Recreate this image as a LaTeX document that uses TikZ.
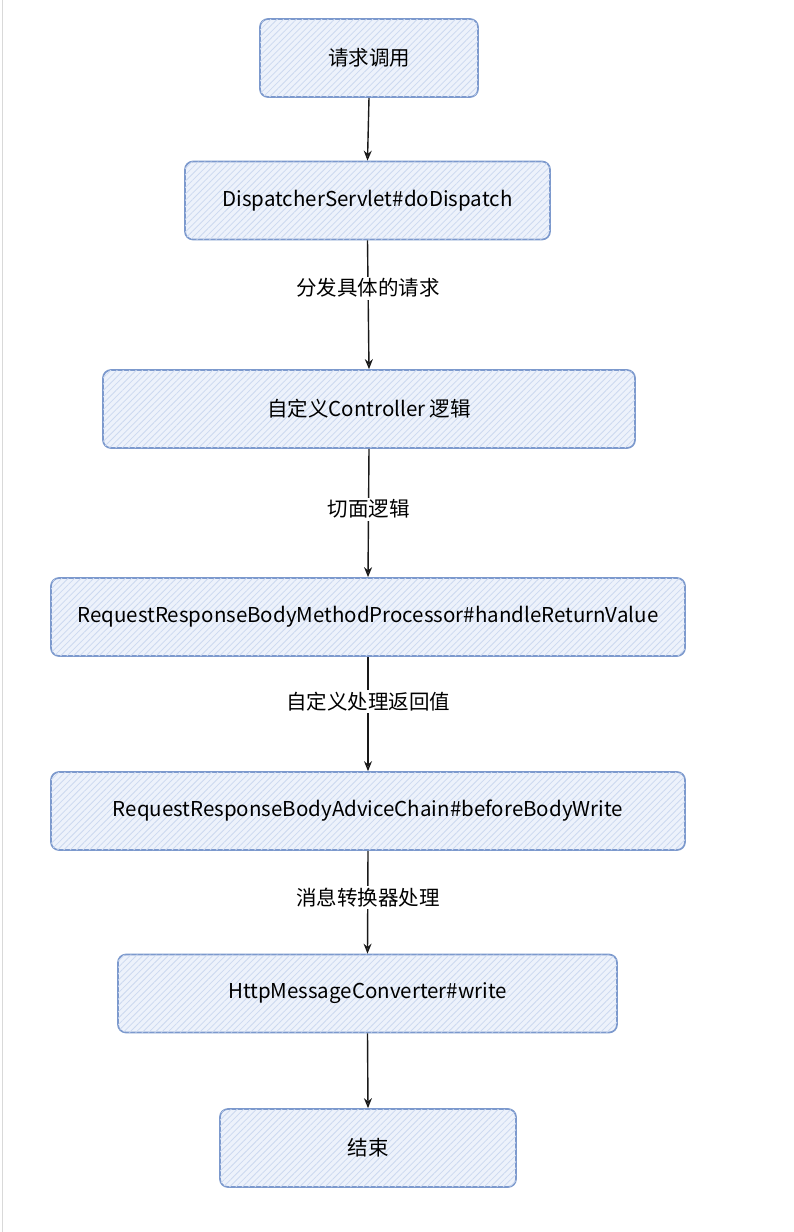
\documentclass[tikz,border=0pt]{standalone}
\usepackage{fontspec}
\setmainfont{Noto Sans CJK SC}
\usetikzlibrary{arrows.meta,patterns.meta}
\definecolor{boxfill}{HTML}{EDF2FB}
\definecolor{hatch}{HTML}{CCD9F0}
\definecolor{boxline}{HTML}{7C99CD}
\tikzset{
  flowbox/.style={draw=boxline,line width=1.7pt,rounded corners=8pt,
    fill=boxfill,
    postaction={pattern={Lines[angle=45,distance=4.5pt,line width=0.8pt]},pattern color=hatch},
    minimum height=78pt,inner sep=0pt,font=\fontsize{20.5}{24}\selectfont},
  flowarrow/.style={draw=black!90,line width=1.4pt,-{Stealth[length=10pt,width=8pt,open,fill=white]}},
  flowlabel/.style={fill=white,inner sep=2pt,font=\fontsize{20.5}{24}\selectfont}
}
\begin{document}
\begin{tikzpicture}[x=1pt,y=-1pt]
\useasboundingbox (0,0) rectangle (794,1232);
\fill[white] (0,0) rectangle (794,1232);
\draw[black!15,line width=1pt] (2,0) -- (2,1232);
\node[flowbox,minimum width=218pt] (n1) at (369,58) {请求调用};
\node[flowbox,minimum width=365pt] (n2) at (367.5,200.5) {DispatcherServlet\#doDispatch};
\node[flowbox,minimum width=532pt] (n3) at (369,409) {自定义Controller 逻辑};
\node[flowbox,minimum width=634pt] (n4) at (368,617) {RequestResponseBodyMethodProcessor\#handleReturnValue};
\node[flowbox,minimum width=634pt] (n5) at (368,811) {RequestResponseBodyAdviceChain\#beforeBodyWrite};
\node[flowbox,minimum width=499pt] (n6) at (367.5,993.5) {HttpMessageConverter\#write};
\node[flowbox,minimum width=296pt] (n7) at (368,1148) {结束};
\draw[flowarrow] (n1.south) -- (n2.north);
\draw[flowarrow] (n2.south) -- node[flowlabel,pos=0.37] {分发具体的请求} (n3.north);
\draw[flowarrow] (n3.south) -- node[flowlabel,pos=0.47] {切面逻辑} (n4.north);
\draw[flowarrow] (n4.south) -- node[flowlabel,pos=0.39] {自定义处理返回值} (n5.north);
\draw[flowarrow] (n5.south) -- node[flowlabel,pos=0.45] {消息转换器处理} (n6.north);
\draw[flowarrow] (n6.south) -- (n7.north);
\end{tikzpicture}
\end{document}
